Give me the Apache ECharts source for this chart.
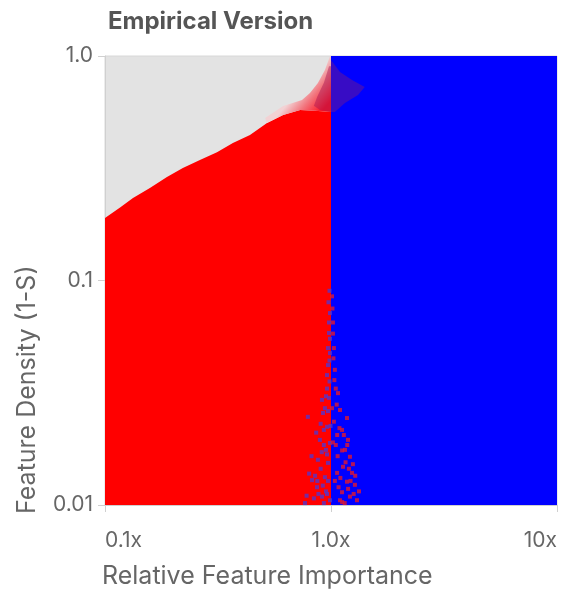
<!DOCTYPE html>
<html lang="en">
<head>
    <meta charset="UTF-8">
    <title>Empirical Version</title>
    <style>
        html, body { margin: 0; padding: 0; background: #fff; }
        #myChart { width: 563px; height: 589px; }
    </style>
</head>
<body>
    <div id="myChart"></div>
</body>
<script src="https://cdn.jsdelivr.net/npm/echarts@6/dist/echarts.min.js"></script>
<script>
    // tick labels
    let xTickLabels = ['0.1x', '1.0x', '10x'];      // 0.1, 1, 10
    let yTickLabels = ['0.01', '0.1', '1.0'];       // 0.01, 0.1, 1

    // upper edge of the red region (x below 1)
    let redX = [0.1, 0.117, 0.133, 0.158, 0.188, 0.221, 0.263, 0.313, 0.368, 0.438, 0.521, 0.614, 0.73, 0.85, 1.0, 1.0, 0.1];
    let redY = [0.19, 0.212, 0.233, 0.258, 0.289, 0.317, 0.344, 0.373, 0.41, 0.445, 0.503, 0.546, 0.575, 0.57, 0.563, 0.01, 0.01];

    // blue region (x above 1)
    let blueX = [1, 1, 10, 10];
    let blueY = [0.01, 1, 1, 0.01];

    // pink fade between grey and red near the top
    let pinkX = [0.99, 0.94, 0.875, 0.807, 0.744, 0.614, 0.511, 0.521, 0.614, 0.73, 0.85, 1.0, 1.0];
    let pinkY = [1.0, 0.866, 0.758, 0.684, 0.637, 0.599, 0.53, 0.503, 0.546, 0.575, 0.57, 0.563, 1.0];

    // mixed red/blue zone at the top, left and right of 1.0x
    let mixLeftX = [0.98, 0.93, 0.87, 0.84, 0.893, 1.0, 1.0];
    let mixLeftY = [0.9, 0.76, 0.66, 0.6, 0.575, 0.563, 0.9];
    let mixRightX = [1.0, 1.096, 1.239, 1.41, 1.317, 1.153, 1.04, 1.0];
    let mixRightY = [0.96, 0.849, 0.782, 0.728, 0.67, 0.618, 0.563, 0.563];

    // speckles near 1.0x at low density
    let blueDots = [[0.99, 0.0716], [0.98, 0.0584], [0.99, 0.0475], [0.96, 0.0379], [0.912, 0.0294],
        [0.79, 0.0247], [0.922, 0.0257], [0.96, 0.0223], [0.893, 0.0195], [0.99, 0.0189],
        [0.875, 0.0159], [0.97, 0.0154], [0.824, 0.0129], [0.94, 0.0133], [0.767, 0.0102],
        [0.912, 0.0109], [0.99, 0.0105], [0.867, 0.012], [0.85, 0.0135], [0.95, 0.0176],
        [0.93, 0.0216], [0.98, 0.03], [0.97, 0.042], [0.98, 0.065], [0.88, 0.0112],
        [0.82, 0.0165], [0.95, 0.0115], [0.985, 0.09], [0.975, 0.08], [0.99, 0.055],
        [0.97, 0.05], [0.985, 0.044], [0.96, 0.033], [0.94, 0.027], [0.9, 0.023],
        [0.86, 0.021], [0.93, 0.0185], [0.96, 0.0168], [0.9, 0.0145], [0.8, 0.0138],
        [0.87, 0.0128], [0.92, 0.0122], [0.96, 0.0112], [0.84, 0.0107], [0.78, 0.011],
        [0.97, 0.0262], [0.95, 0.0305], [0.91, 0.0172], [0.97, 0.0128], [0.93, 0.0102],
        [0.985, 0.0355], [0.995, 0.0225]];
    let redDots = [[1.074, 0.0315], [1.096, 0.0265], [1.177, 0.0244], [1.119, 0.0216], [1.189, 0.0195],
        [1.153, 0.0176], [1.213, 0.0164], [1.13, 0.0148], [1.239, 0.0139], [1.177, 0.0127],
        [1.276, 0.0123], [1.119, 0.0114], [1.213, 0.0109], [1.303, 0.0105], [1.064, 0.0139],
        [1.096, 0.0105], [1.03, 0.05], [1.04, 0.04], [1.02, 0.065], [1.05, 0.0185],
        [1.08, 0.012], [1.15, 0.0102], [1.25, 0.0152], [1.03, 0.0235], [1.06, 0.028],
        [1.01, 0.085], [1.015, 0.075], [1.02, 0.058], [1.025, 0.045], [1.035, 0.036],
        [1.05, 0.033], [1.09, 0.022], [1.14, 0.0205], [1.12, 0.0175], [1.2, 0.0145],
        [1.16, 0.0155], [1.1, 0.0132], [1.19, 0.0118], [1.26, 0.0112], [1.07, 0.0165],
        [1.04, 0.0128], [1.12, 0.0103], [1.33, 0.0115], [1.22, 0.0128], [1.02, 0.019],
        [1.01, 0.027], [1.065, 0.0205], [1.18, 0.0185], [1.28, 0.0135]];

    let font = 'Inter, "Noto Sans", sans-serif';

    function polygonSeries(xs, ys, fill, z) {
      return {
        type: 'custom',
        coordinateSystem: 'cartesian2d',
        silent: true,
        z: z,
        data: xs.map(function (x, i) { return [x, ys[i]]; }),
        renderItem: function (params, api) {
          if (params.dataIndex !== 0) return null;
          let pts = xs.map(function (x, i) { return api.coord([x, ys[i]]); });
          return { type: 'polygon', shape: { points: pts }, style: { fill: fill } };
        }
      };
    }

    function dotSeries(data, color) {
      return {
        type: 'scatter',
        silent: true,
        z: 10,
        symbol: 'rect',
        symbolSize: 4,
        itemStyle: { color: color },
        data: data
      };
    }

    function logIndex(v) {
      return Math.round(Math.log10(v));
    }

    let chart = echarts.init(document.getElementById('myChart'));
    let option = {
      animation: false,
      title: {
        text: 'Empirical Version',
        left: 103,
        top: 5,
        textStyle: { fontFamily: font, fontSize: 24, fontWeight: 'bold', color: '#555' }
      },
      grid: {
        left: 105, right: 6, top: 56, bottom: 84,
        show: true,
        backgroundColor: '#e3e3e3',
        borderColor: '#d8d8d8',
        borderWidth: 1
      },
      xAxis: {
        type: 'log',
        logBase: 10,
        min: 0.1,
        max: 10,
        splitLine: { show: false },
        axisLine: { lineStyle: { color: '#d0d0d0' } },
        axisTick: { length: 7, lineStyle: { color: '#d0d0d0' } },
        axisLabel: {
          margin: 25,
          fontFamily: font,
          fontSize: 21,
          color: '#666',
          alignMinLabel: 'left',
          alignMaxLabel: 'right',
          formatter: function (v) { return xTickLabels[logIndex(v) + 1]; }
        }
      },
      yAxis: {
        type: 'log',
        logBase: 10,
        min: 0.01,
        max: 1,
        splitLine: { show: false },
        axisLine: { show: true, lineStyle: { color: '#d0d0d0' } },
        axisTick: { show: true, length: 7, lineStyle: { color: '#d0d0d0' } },
        axisLabel: {
          margin: 12,
          fontFamily: font,
          fontSize: 21,
          color: '#666',
          formatter: function (v) { return yTickLabels[logIndex(v) + 2]; }
        }
      },
      graphic: [
        {
          type: 'text',
          x: 27,
          y: 514,
          rotation: Math.PI / 2,
          style: {
            text: 'Feature Density (1-S)',
            font: '25px ' + font,
            fill: '#666',
            align: 'left',
            verticalAlign: 'middle'
          }
        },
        {
          type: 'text',
          x: 102,
          y: 576,
          style: {
            text: 'Relative Feature Importance',
            font: '25px ' + font,
            fill: '#666',
            align: 'left',
            verticalAlign: 'middle'
          }
        }
      ],
      series: [
        polygonSeries(blueX, blueY, '#0000ff', 2),
        polygonSeries(redX, redY, '#ff0000', 3),
        polygonSeries(pinkX, pinkY, new echarts.graphic.LinearGradient(0.62, 0.4, 0.97, 0.7, [
          { offset: 0, color: '#f2d2d4' },
          { offset: 0.45, color: '#f27880' },
          { offset: 1, color: '#fc1424' }
        ]), 4),
        polygonSeries(mixLeftX, mixLeftY, 'rgba(165, 20, 85, 0.45)', 5),
        polygonSeries(mixRightX, mixRightY, 'rgba(140, 30, 110, 0.4)', 5),
        dotSeries(blueDots, '#5535c8'),
        dotSeries(redDots, '#e0182e')
      ]
    };
    chart.setOption(option);
</script>
</html>
